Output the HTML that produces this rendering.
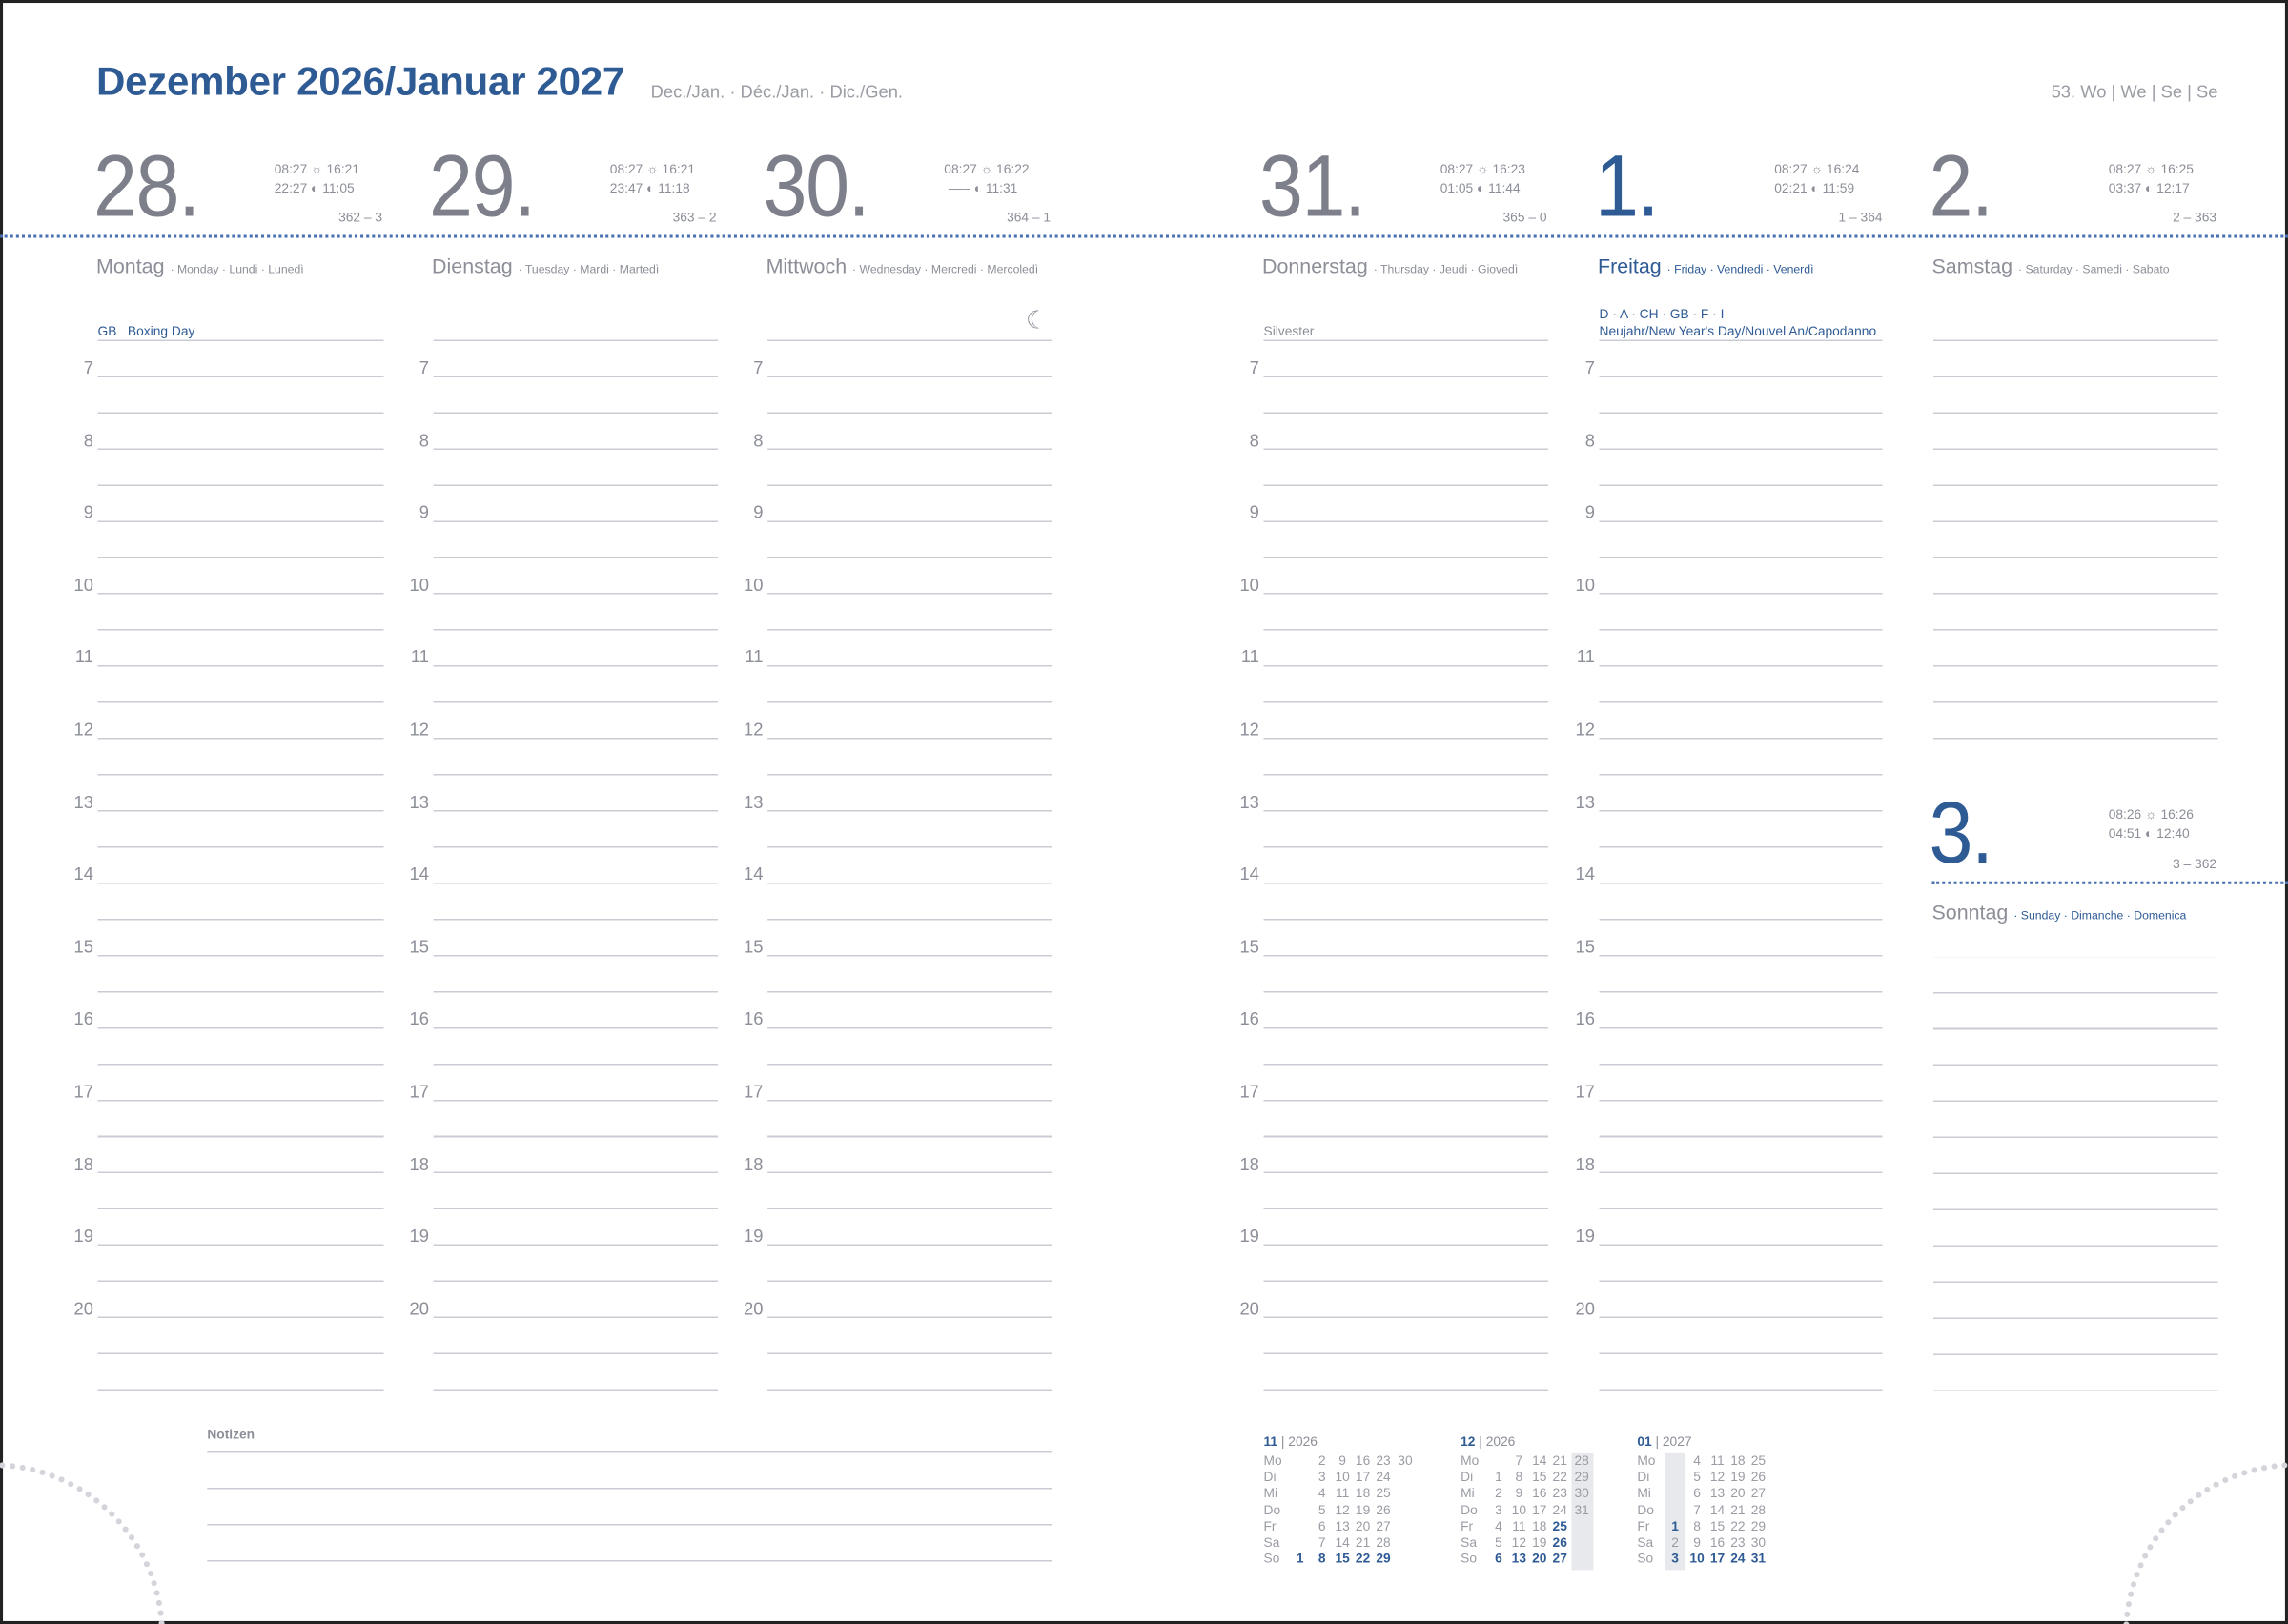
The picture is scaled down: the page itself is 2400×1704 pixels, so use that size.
<!DOCTYPE html>
<html><head><meta charset="utf-8"><style>
html,body{margin:0;padding:0;background:#fff;}
body{width:2400px;height:1704px;overflow:hidden;position:relative;}
#pg{position:absolute;left:0;top:0;width:1568px;height:1113px;overflow:hidden;transform-origin:0 0;transform:scale(1.5306,1.531);font-family:"Liberation Sans",sans-serif;color:#8c8f98;}
.a{position:absolute;white-space:nowrap;}
.frame{position:absolute;left:0;top:0;width:1564px;height:1109px;border:2px solid #222;}
.title{left:66px;top:40px;font-size:27.5px;font-weight:bold;color:#2f5b95;letter-spacing:-0.2px;}
.sub{font-size:12px;color:#9a9ca4;}
.num{font-size:60px;color:#7d808b;top:93px;transform:scaleX(0.9);transform-origin:0 0;letter-spacing:-1px;}
.sm{font-size:9px;color:#8c8f98;}
.wd{font-size:14px;color:#8c8f98;top:174px;}
.wd span{font-size:8px;}
.lines{position:absolute;background:repeating-linear-gradient(to bottom,transparent 0,transparent 23.8px,#c9ccd3 23.8px,#c9ccd3 24.8px);}
.hrs{position:absolute;top:228px;width:30px;text-align:right;font-size:12px;line-height:49.6px;color:#8c8f98;}
.dot{position:absolute;height:0;border-top:2px dotted #4a72b0;}
.mc{position:absolute;font-size:9px;line-height:11.2px;color:#9a9ca4;}
.mc b{color:#2f5b95;}
.h{font-size:9px;color:#2f5b95;font-weight:bold;}
</style></head><body><div id="pg">
<div class="frame"></div>
<div class="a title">Dezember 2026/Januar 2027</div>
<div class="a sub" style="left:446px;top:56px;">Dec./Jan. · Déc./Jan. · Dic./Gen.</div>
<div class="a sub" style="right:48px;top:56px;">53. Wo | We | Se | Se</div>

<div class="dot" style="left:0;top:161px;width:1568px;"></div>

<div class="a num" style="left:64px;">28.</div>
<div class="a num" style="left:294px;">29.</div>
<div class="a num" style="left:523px;">30.</div>
<div class="a num" style="left:863px;">31.</div>
<div class="a num" style="left:1093px;color:#2f5b95;">1.</div>
<div class="a num" style="left:1322px;">2.</div>
<div class="a num" style="left:1322px;top:536px;color:#2f5b95;">3.</div>

<div class="a sm" style="left:188px;top:111px;">08:27 ☼ 16:21</div><div class="a sm" style="left:188px;top:124px;">22:27 ◐ 11:05</div><div class="a sm" style="left:232px;top:144px;">362 – 3</div>
<div class="a sm" style="left:418px;top:111px;">08:27 ☼ 16:21</div><div class="a sm" style="left:418px;top:124px;">23:47 ◐ 11:18</div><div class="a sm" style="left:461px;top:144px;">363 – 2</div>
<div class="a sm" style="left:647px;top:111px;">08:27 ☼ 16:22</div><div class="a sm" style="left:650px;top:124px;">––– ◐ 11:31</div><div class="a sm" style="left:690px;top:144px;">364 – 1</div>
<div class="a sm" style="left:987px;top:111px;">08:27 ☼ 16:23</div><div class="a sm" style="left:987px;top:124px;">01:05 ◐ 11:44</div><div class="a sm" style="left:1030px;top:144px;">365 – 0</div>
<div class="a sm" style="left:1216px;top:111px;">08:27 ☼ 16:24</div><div class="a sm" style="left:1216px;top:124px;">02:21 ◐ 11:59</div><div class="a sm" style="left:1260px;top:144px;">1 – 364</div>
<div class="a sm" style="left:1445px;top:111px;">08:27 ☼ 16:25</div><div class="a sm" style="left:1445px;top:124px;">03:37 ◐ 12:17</div><div class="a sm" style="left:1489px;top:144px;">2 – 363</div>
<div class="a sm" style="left:1445px;top:553px;">08:26 ☼ 16:26</div><div class="a sm" style="left:1445px;top:566px;">04:51 ◐ 12:40</div><div class="a sm" style="left:1489px;top:587px;">3 – 362</div>

<div class="dot" style="left:1324px;top:604px;width:244px;"></div>

<div class="a wd" style="left:66px;">Montag <span>· Monday · Lundi · Lunedì</span></div>
<div class="a wd" style="left:296px;">Dienstag <span>· Tuesday · Mardi · Martedì</span></div>
<div class="a wd" style="left:525px;">Mittwoch <span>· Wednesday · Mercredi · Mercoledì</span></div>
<div class="a wd" style="left:865px;">Donnerstag <span>· Thursday · Jeudi · Giovedì</span></div>
<div class="a wd" style="left:1095px;color:#2f5b95;">Freitag <span>· Friday · Vendredi · Venerdì</span></div>
<div class="a wd" style="left:1324px;">Samstag <span>· Saturday · Samedi · Sabato</span></div>
<div class="a wd" style="left:1324px;top:617px;">Sonntag <span style="color:#2f5b95">· Sunday · Dimanche · Domenica</span></div>

<div class="a sm" style="left:67px;top:222px;color:#2f5b95;">GB &nbsp; Boxing Day</div>
<div class="a sm" style="left:866px;top:222px;">Silvester</div>
<div class="a sm" style="left:1096px;top:210px;color:#2f5b95;">D · A · CH · GB · F · I</div>
<div class="a sm" style="left:1096px;top:222px;color:#2f5b95;">Neujahr/New Year's Day/Nouvel An/Capodanno</div>
<div class="a" style="left:703px;top:210px;font-size:17px;color:#8c8f98;">☾</div>

<div class="lines" style="left:67px;top:209px;width:196px;height:746px;"></div>
<div class="lines" style="left:297px;top:209px;width:195px;height:746px;"></div>
<div class="lines" style="left:526px;top:209px;width:195px;height:746px;"></div>
<div class="lines" style="left:866px;top:209px;width:195px;height:746px;"></div>
<div class="lines" style="left:1096px;top:209px;width:194px;height:746px;"></div>
<div class="lines" style="left:1325px;top:209px;width:195px;height:299px;"></div>
<div class="lines" style="left:1325px;top:656px;width:195px;height:299px;"></div>

<div class="hrs" style="left:34px;">7<br>8<br>9<br>10<br>11<br>12<br>13<br>14<br>15<br>16<br>17<br>18<br>19<br>20</div>
<div class="hrs" style="left:264px;">7<br>8<br>9<br>10<br>11<br>12<br>13<br>14<br>15<br>16<br>17<br>18<br>19<br>20</div>
<div class="hrs" style="left:493px;">7<br>8<br>9<br>10<br>11<br>12<br>13<br>14<br>15<br>16<br>17<br>18<br>19<br>20</div>
<div class="hrs" style="left:833px;">7<br>8<br>9<br>10<br>11<br>12<br>13<br>14<br>15<br>16<br>17<br>18<br>19<br>20</div>
<div class="hrs" style="left:1063px;">7<br>8<br>9<br>10<br>11<br>12<br>13<br>14<br>15<br>16<br>17<br>18<br>19<br>20</div>

<div class="a" style="left:142px;top:978px;font-size:9px;font-weight:bold;color:#8c8f98;">Notizen</div>
<div class="lines" style="left:142px;top:971px;width:579px;height:100px;"></div>

<div class="a h" style="left:866px;top:983px;">11 <span style="font-weight:normal;color:#8c8f98">| 2026</span></div>
<div class="mc" style="left:866px;top:996px;">Mo<br>Di<br>Mi<br>Do<br>Fr<br>Sa<br>So</div>
<div class="mc" style="left:884px;top:996px;width:14px;text-align:center;"><br><br><br><br><br><br><b>1</b></div>
<div class="mc" style="left:899px;top:996px;width:14px;text-align:center;">2<br>3<br>4<br>5<br>6<br>7<br><b>8</b></div>
<div class="mc" style="left:913px;top:996px;width:14px;text-align:center;">9<br>10<br>11<br>12<br>13<br>14<br><b>15</b></div>
<div class="mc" style="left:927px;top:996px;width:14px;text-align:center;">16<br>17<br>18<br>19<br>20<br>21<br><b>22</b></div>
<div class="mc" style="left:941px;top:996px;width:14px;text-align:center;">23<br>24<br>25<br>26<br>27<br>28<br><b>29</b></div>
<div class="mc" style="left:956px;top:996px;width:14px;text-align:center;">30</div>

<div class="a h" style="left:1001px;top:983px;">12 <span style="font-weight:normal;color:#8c8f98">| 2026</span></div>
<div style="position:absolute;left:1077px;top:996px;width:15px;height:80px;background:#e8e9ed;"></div>
<div class="mc" style="left:1001px;top:996px;">Mo<br>Di<br>Mi<br>Do<br>Fr<br>Sa<br>So</div>
<div class="mc" style="left:1020px;top:996px;width:14px;text-align:center;"><br>1<br>2<br>3<br>4<br>5<br><b>6</b></div>
<div class="mc" style="left:1034px;top:996px;width:14px;text-align:center;">7<br>8<br>9<br>10<br>11<br>12<br><b>13</b></div>
<div class="mc" style="left:1048px;top:996px;width:14px;text-align:center;">14<br>15<br>16<br>17<br>18<br>19<br><b>20</b></div>
<div class="mc" style="left:1062px;top:996px;width:14px;text-align:center;">21<br>22<br>23<br>24<br><b>25</b><br><b>26</b><br><b>27</b></div>
<div class="mc" style="left:1077px;top:996px;width:14px;text-align:center;">28<br>29<br>30<br>31</div>

<div class="a h" style="left:1122px;top:983px;">01 <span style="font-weight:normal;color:#8c8f98">| 2027</span></div>
<div style="position:absolute;left:1141px;top:996px;width:14px;height:80px;background:#e8e9ed;"></div>
<div class="mc" style="left:1122px;top:996px;">Mo<br>Di<br>Mi<br>Do<br>Fr<br>Sa<br>So</div>
<div class="mc" style="left:1141px;top:996px;width:14px;text-align:center;"><br><br><br><br><b>1</b><br>2<br><b>3</b></div>
<div class="mc" style="left:1156px;top:996px;width:14px;text-align:center;">4<br>5<br>6<br>7<br>8<br>9<br><b>10</b></div>
<div class="mc" style="left:1170px;top:996px;width:14px;text-align:center;">11<br>12<br>13<br>14<br>15<br>16<br><b>17</b></div>
<div class="mc" style="left:1184px;top:996px;width:14px;text-align:center;">18<br>19<br>20<br>21<br>22<br>23<br><b>24</b></div>
<div class="mc" style="left:1198px;top:996px;width:14px;text-align:center;">25<br>26<br>27<br>28<br>29<br>30<br><b>31</b></div>

<svg style="position:absolute;left:0;top:0" width="1568" height="1113">
<circle cx="-5" cy="1120" r="116" fill="none" stroke="#d3d5da" stroke-width="4" stroke-linecap="round" stroke-dasharray="0 7"/>
<circle cx="1573" cy="1120" r="116" fill="none" stroke="#d3d5da" stroke-width="4" stroke-linecap="round" stroke-dasharray="0 7"/>
</svg>
</div></body></html>
